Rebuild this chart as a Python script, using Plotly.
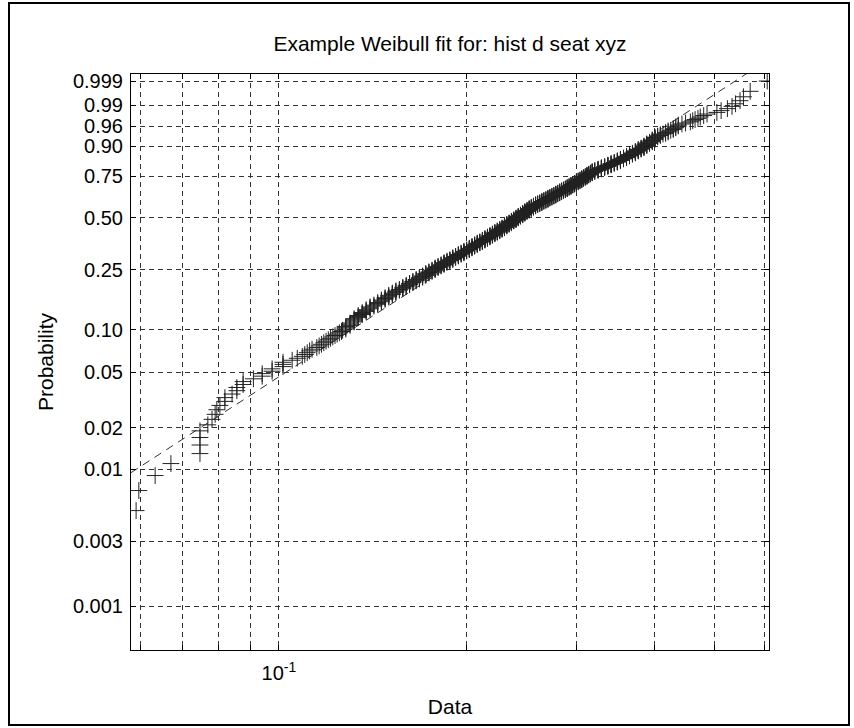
import numpy as np
import plotly.graph_objects as go

title_text = "Example Weibull fit for: hist d seat xyz"
x_label = "Data"
y_label = "Probability"

# Sorted sample (n = 500) given as distinct values and tie counts.
# The two smallest observations are non-positive and fall off the log axis.
data_levels = [
    0.0, 0.0590, 0.0596, 0.0633, 0.0671, 0.0747, 0.0769, 0.0781, 0.0790, 0.0795,
    0.0804, 0.0819, 0.0841, 0.0856, 0.0876, 0.0910, 0.0940, 0.0975, 0.1015, 0.105,
    0.107, 0.109, 0.110, 0.111, 0.112, 0.113, 0.115, 0.116, 0.117, 0.118,
    0.119, 0.120, 0.121, 0.122, 0.123, 0.124, 0.125, 0.126, 0.1265,
    0.128, 0.130, 0.132, 0.134, 0.136, 0.138, 0.140, 0.142, 0.144, 0.146,
    0.148, 0.150, 0.152, 0.154, 0.156, 0.158, 0.160, 0.162, 0.164, 0.166,
    0.168, 0.170, 0.172, 0.174, 0.176, 0.178, 0.180, 0.182, 0.184, 0.186,
    0.188, 0.190, 0.192, 0.194, 0.196, 0.198, 0.200, 0.202, 0.204, 0.206,
    0.208, 0.210, 0.212, 0.214, 0.216, 0.218, 0.220, 0.222, 0.224, 0.226,
    0.228, 0.230, 0.232, 0.234, 0.236, 0.238, 0.240, 0.242, 0.244, 0.246,
    0.248, 0.250, 0.252, 0.254, 0.256, 0.258, 0.260, 0.262, 0.264, 0.266,
    0.268, 0.270, 0.272, 0.274, 0.276, 0.278, 0.280, 0.282, 0.284, 0.286,
    0.288, 0.290, 0.292, 0.294, 0.296, 0.298, 0.300, 0.302, 0.304, 0.306,
    0.308, 0.310, 0.312, 0.314, 0.316, 0.318,
    0.321, 0.325, 0.329, 0.333, 0.337, 0.341, 0.345, 0.349, 0.353, 0.357,
    0.361, 0.365, 0.369, 0.373, 0.377, 0.381, 0.385, 0.389, 0.393, 0.397,
    0.401, 0.405, 0.409, 0.413, 0.417, 0.421, 0.425, 0.429, 0.433, 0.437,
    0.443, 0.449, 0.457, 0.461, 0.465, 0.470, 0.474, 0.480, 0.486, 0.504,
    0.512, 0.524, 0.533, 0.540, 0.549, 0.556, 0.570, 0.607,
]
data_counts = [
    2, 1, 1, 1, 1, 4, 1, 1, 1, 1,
    1, 2, 1, 2, 2, 1, 2, 2, 3, 1,
    1, 1, 1, 1, 1, 1, 1, 1, 1, 1,
    1, 1, 1, 1, 1, 1, 1, 1, 1,
    3, 3, 4, 3, 3, 3, 3, 2, 3, 3,
    3, 3, 3, 3, 2, 3, 3, 3, 3, 3,
    3, 3, 4, 3, 3, 4, 3, 3, 4, 3,
    3, 4, 3, 4, 3, 4, 3, 4, 4, 4,
    4, 3, 4, 4, 4, 4, 4, 4, 4, 4,
    4, 5, 5, 4, 5, 4, 5, 5, 4, 5,
    5, 4, 5, 4, 4, 4, 3, 3, 4, 3,
    3, 4, 3, 3, 3, 4, 3, 4, 3, 3,
    3, 4, 3, 4, 3, 3, 4, 3, 3, 4,
    3, 3, 4, 3, 3, 4,
    3, 4, 4, 3, 4, 4, 3, 4, 4, 3,
    4, 4, 3, 4, 4, 3, 4, 4, 3, 4,
    4, 2, 2, 1, 2, 2, 1, 2, 2, 2,
    1, 1, 1, 1, 1, 1, 1, 1, 1, 1,
    1, 1, 1, 1, 1, 1, 1, 1,
]

prob_ticks = [0.001, 0.003, 0.01, 0.02, 0.05, 0.10, 0.25, 0.50, 0.75, 0.90, 0.96, 0.99, 0.999]
prob_tick_labels = ["0.001", "0.003", "0.01", "0.02", "0.05", "0.10", "0.25",
                    "0.50", "0.75", "0.90", "0.96", "0.99", "0.999"]
x_major_ticks = [0.1]
x_major_labels = ["10<sup>-1</sup>"]
x_minor_ticks = [0.06, 0.07, 0.08, 0.09, 0.2, 0.3, 0.4, 0.5, 0.6]

x_limits = [0.0579, 0.611]
prob_limits = [0.00048, 0.99958]

fit_scale = 0.2803
fit_shape = 2.953


def weib(p):
    p = np.asarray(p, dtype=float)
    return np.log(-np.log(1.0 - p))


x_sorted = np.repeat(np.array(data_levels), np.array(data_counts))
n = len(x_sorted)
plot_pos = (np.arange(1, n + 1) - 0.5) / n
y_all = weib(plot_pos)
keep = x_sorted > 0
x_pts = x_sorted[keep]
y_pts = y_all[keep]

fit_x = np.array(x_limits)
fit_y = fit_shape * (np.log(fit_x) - np.log(fit_scale))

fig = go.Figure()
fig.add_trace(go.Scatter(
    x=fit_x, y=fit_y, mode="lines",
    line=dict(color="#333333", width=1, dash="8px,6px"),
    hoverinfo="skip", showlegend=False,
))
fig.add_trace(go.Scatter(
    x=x_pts, y=y_pts, mode="markers",
    marker=dict(symbol="cross-thin", size=12, color="#222222",
                line=dict(color="#222222", width=1)),
    showlegend=False,
))

W, H = 854, 728
L, R, T, B = 131, 769, 74, 650
pw, ph = R - L, B - T


def px(xp):
    return (xp - L) / pw


def py(yp):
    return (B - yp) / ph


font = "Liberation Sans, Arial, Helvetica, sans-serif"
grid_style = dict(gridcolor="#333333", gridwidth=1, griddash="5px,4px")

fig.update_layout(
    width=W, height=H,
    margin=dict(l=L, r=W - R, t=T, b=H - B),
    paper_bgcolor="white", plot_bgcolor="white",
    font=dict(family=font, size=20, color="black"),
    title=dict(text=title_text, x=0.5, xref="paper", y=1 - 44 / H, yref="container",
               xanchor="center", yanchor="middle", font=dict(size=21)),
    shapes=[dict(type="rect", xref="paper", yref="paper",
                 x0=px(9), x1=px(849), y0=py(725), y1=py(3),
                 line=dict(color="black", width=2), layer="below")],
)
fig.update_xaxes(
    type="log", range=[np.log10(x_limits[0]), np.log10(x_limits[1])],
    tickmode="array", tickvals=x_major_ticks, ticktext=x_major_labels,
    showgrid=True, **grid_style,
    minor=dict(tickmode="array", tickvals=x_minor_ticks, showgrid=True,
               ticks="inside", ticklen=5, tickcolor="black", **grid_style),
    showline=True, linecolor="black", linewidth=1, mirror="ticks",
    ticks="inside", ticklen=5, tickcolor="black",
    zeroline=False, ticklabelstandoff=5,
    title=dict(text=x_label, standoff=16, font=dict(size=21)),
)
fig.update_yaxes(
    range=[float(weib(prob_limits[0])), float(weib(prob_limits[1]))],
    tickmode="array", tickvals=list(weib(prob_ticks)), ticktext=prob_tick_labels,
    showgrid=True, **grid_style,
    showline=True, linecolor="black", linewidth=1, mirror="ticks",
    ticks="inside", ticklen=5, tickcolor="black",
    zeroline=False, ticklabelstandoff=3,
    title=dict(text=y_label, standoff=13, font=dict(size=21)),
)

fig.write_html("out.html")
